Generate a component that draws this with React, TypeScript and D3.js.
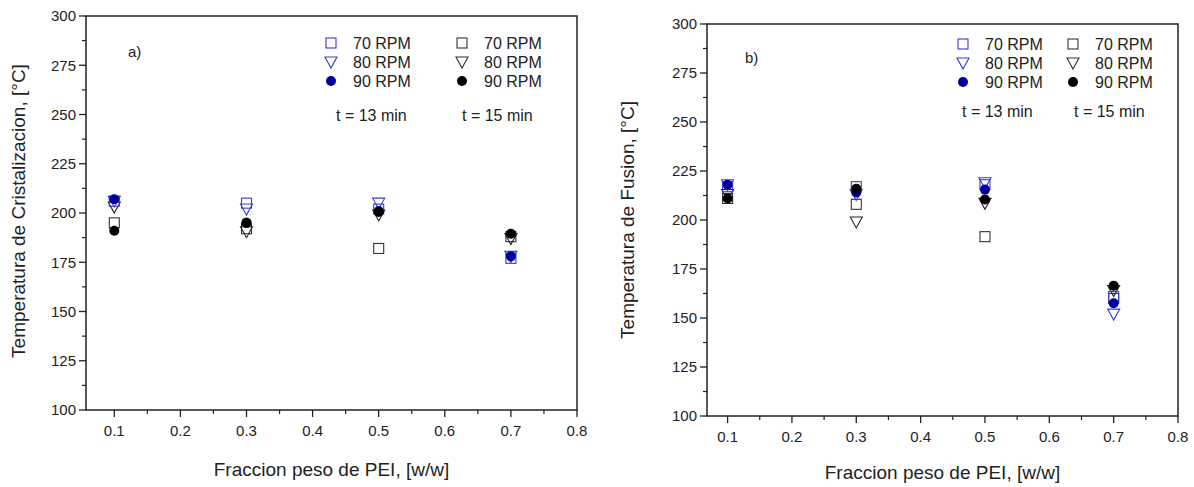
import React from "react";
import * as d3 from "d3";

const xValues = [0.1, 0.3, 0.5, 0.7];
const xTicks = [0.1, 0.2, 0.3, 0.4, 0.5, 0.6, 0.7, 0.8];
const yTicks = [100, 125, 150, 175, 200, 225, 250, 275, 300];
const legendLabels = ["70 RPM", "80 RPM", "90 RPM"];
const timeLabels = ["t = 13 min", "t = 15 min"];

// Panel a) crystallization temperature
const crystA13_70 = [206, 205, 202, 177];
const crystA13_80 = [206, 202, 205, 178];
const crystA13_90 = [207, 195, 201, 178];
const crystA15_70 = [195, 192, 182, 188];
const crystA15_80 = [203, 190.5, 199, 187];
const crystA15_90 = [191, 195, 200.5, 189.5];

// Panel b) fusion temperature
const fusB13_70 = [217, 217, 218, 161];
const fusB13_80 = [218, 213, 219, 152];
const fusB13_90 = [218, 214, 215.5, 157.5];
const fusB15_70 = [211, 208, 191.5, 160];
const fusB15_80 = [213, 199, 208.5, 164];
const fusB15_90 = [211, 216, 210.5, 166.5];

type Shape = "square" | "triangle" | "circle";
const BLUE_LINE = "#3a3ad0";
const BLUE_FILL = "#0000a0";

function Marker({ shape, cx, cy, color }: { shape: Shape; cx: number; cy: number; color: string }) {
  if (shape === "square") {
    return <rect x={cx - 5} y={cy - 5} width={10} height={10} fill="white" fillOpacity={0} stroke={color} strokeWidth={1.1} />;
  }
  if (shape === "triangle") {
    const p = `${cx - 6},${cy - 5} ${cx + 6},${cy - 5} ${cx},${cy + 6}`;
    return <polygon points={p} fill="white" fillOpacity={0} stroke={color} strokeWidth={1.1} />;
  }
  return <circle cx={cx} cy={cy} r={5} fill={color} />;
}

interface PanelProps {
  left: number; right: number; top: number; bottom: number; xmin: number;
  yTitle: string; tag: string; tagX: number; tagY: number;
  s13: number[][]; s15: number[][];
  leg: { bx: number; kx: number; row0: number; rowH: number; tY: number; t13x: number; t15x: number };
  titleX: number; titleY: number; xTitleY: number;
}

function Panel(p: PanelProps) {
  const x = d3.scaleLinear().domain([p.xmin, 0.8]).range([p.left, p.right]);
  const y = d3.scaleLinear().domain([100, 300]).range([p.bottom, p.top]);
  const minorX = d3.range(0.15, 0.8, 0.1);
  const minorY = d3.range(112.5, 300, 25);
  const shapes: Shape[] = ["square", "triangle", "circle"];
  const font = "Liberation Sans, Arial, sans-serif";
  const order: [Shape, string, number[]][] = [
    ["square", "#333", p.s15[0]],
    ["triangle", "#222", p.s15[1]],
    ["square", BLUE_LINE, p.s13[0]],
    ["triangle", BLUE_LINE, p.s13[1]],
    ["circle", BLUE_FILL, p.s13[2]],
    ["circle", "#000", p.s15[2]],
  ];
  return (
    <g fontFamily={font}>
      <rect x={p.left} y={p.top} width={p.right - p.left} height={p.bottom - p.top} fill="none" stroke="#222" strokeWidth={1.5} />
      {yTicks.map((t) => (
        <g key={"y" + t}>
          <line x1={p.left - 7} x2={p.left} y1={y(t)} y2={y(t)} stroke="#222" strokeWidth={1.3} />
          <text x={p.left - 10} y={y(t)} dy="0.35em" textAnchor="end" fontSize={15} fill="#222">{t}</text>
        </g>
      ))}
      {minorY.map((t) => (
        <line key={"my" + t} x1={p.left - 4} x2={p.left} y1={y(t)} y2={y(t)} stroke="#222" strokeWidth={1.2} />
      ))}
      {xTicks.map((t) => (
        <g key={"x" + t}>
          <line x1={x(t)} x2={x(t)} y1={p.bottom} y2={p.bottom + 7} stroke="#222" strokeWidth={1.3} />
          <text x={x(t)} y={p.bottom + 26} textAnchor="middle" fontSize={15} fill="#222">{t.toFixed(1)}</text>
        </g>
      ))}
      {minorX.map((t) => (
        <line key={"mx" + t} x1={x(t)} x2={x(t)} y1={p.bottom} y2={p.bottom + 4} stroke="#222" strokeWidth={1.2} />
      ))}
      <text x={(p.left + p.right) / 2} y={p.xTitleY} textAnchor="middle" fontSize={19} fill="#222">Fraccion peso de PEI, [w/w]</text>
      <text transform={`translate(${p.titleX},${p.titleY}) rotate(-90)`} textAnchor="middle" fontSize={19} fill="#222">{p.yTitle}</text>
      <text x={p.tagX} y={p.tagY} fontSize={15} fill="#222">{p.tag}</text>
      {order.map(([sh, col, vals], i) =>
        vals.map((v, j) => (
          <Marker key={`m${i}-${j}`} shape={sh} cx={x(xValues[j])} cy={y(v)} color={col} />
        ))
      )}
      {shapes.map((sh, i) => {
        const ry = p.leg.row0 + i * p.leg.rowH;
        return (
          <g key={"leg" + i}>
            <Marker shape={sh} cx={p.leg.bx} cy={ry} color={sh === "circle" ? BLUE_FILL : BLUE_LINE} />
            <text x={p.leg.bx + 22} y={ry} dy="0.35em" fontSize={16} fill="#222">{legendLabels[i]}</text>
            <Marker shape={sh} cx={p.leg.kx} cy={ry} color={sh === "circle" ? "#000" : "#333"} />
            <text x={p.leg.kx + 22} y={ry} dy="0.35em" fontSize={16} fill="#222">{legendLabels[i]}</text>
          </g>
        );
      })}
      <text x={p.leg.t13x} y={p.leg.tY} dy="0.35em" fontSize={16} fill="#222">{timeLabels[0]}</text>
      <text x={p.leg.t15x} y={p.leg.tY} dy="0.35em" fontSize={16} fill="#222">{timeLabels[1]}</text>
    </g>
  );
}

export default function App() {
  return (
    <svg width={1194} height={487} style={{ position: "absolute", left: 0, top: 0, background: "white" }}>
      <Panel
        left={86} right={577} top={16} bottom={410} xmin={0.0572}
        yTitle="Temperatura de Cristalizacion, [°C]" tag="a)" tagX={128} tagY={57}
        s13={[crystA13_70, crystA13_80, crystA13_90]} s15={[crystA15_70, crystA15_80, crystA15_90]}
        leg={{ bx: 331, kx: 462, row0: 43, rowH: 19, tY: 115, t13x: 336, t15x: 462 }}
        titleX={25} titleY={211} xTitleY={476}
      />
      <Panel
        left={707} right={1178} top={24} bottom={416} xmin={0.068}
        yTitle="Temperatura de Fusion, [°C]" tag="b)" tagX={745} tagY={63}
        s13={[fusB13_70, fusB13_80, fusB13_90]} s15={[fusB15_70, fusB15_80, fusB15_90]}
        leg={{ bx: 963, kx: 1073, row0: 44, rowH: 19, tY: 111, t13x: 962, t15x: 1074 }}
        titleX={634} titleY={220} xTitleY={479}
      />
    </svg>
  );
}
